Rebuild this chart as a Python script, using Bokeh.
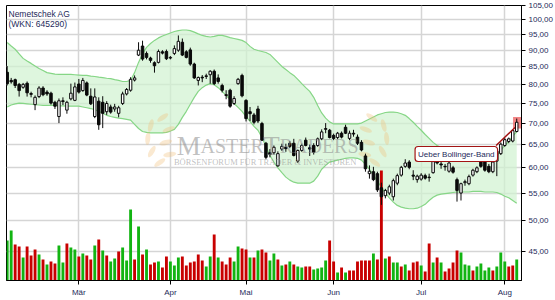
import math
from bokeh.plotting import figure
from bokeh.models import ColumnDataSource, Range1d, LinearScale, FixedTicker, Label
from bokeh.embed import file_html
from bokeh.resources import INLINE

# ---------------- data ----------------
opens = [83.4, 81.1, 81.3, 80.0, 79.2, 80.3, 77.5, 74.6, 76.7, 79.0,
         77.9, 77.6, 75.2, 71.6, 75.6, 73.2, 76.1, 75.7, 80.1, 78.3,
         80.4, 76.8, 71.6, 75.5, 75.2, 72.8, 74.0, 73.5, 72.4, 74.9,
         77.4, 78.4, 81.2, 88.5, 91.3, 89.0, 87.6, 86.2, 86.3, 89.5,
         89.6, 87.6, 89.0, 90.0, 92.5, 89.5, 90.1, 85.8, 81.1, 82.0,
         82.2, 82.7, 83.7, 81.8, 79.7, 77.2, 78.4, 74.9, 80.2, 82.5,
         75.7, 72.8, 72.0, 73.5, 69.9, 65.3, 63.2, 63.2, 60.4, 64.0,
         64.4, 65.3, 65.3, 61.4, 63.7, 66.0, 64.3, 64.8, 64.8, 66.3,
         68.5, 68.3, 67.1, 66.6, 67.6, 69.0, 66.4, 67.6, 66.7, 65.5,
         62.5, 58.8, 59.2, 58.8, 56.0, 54.5, 55.0, 54.3, 56.9, 58.5,
         60.3, 61.2, 58.5, 57.6, 57.7, 58.4, 58.1, 59.0, 61.6, 60.8,
         60.3, 59.3, 60.0, 57.6, 55.0, 57.0, 56.8, 58.5, 59.2, 61.4,
         61.2, 60.3, 59.2, 61.4, 63.0, 64.8, 65.7, 65.8, 68.0]
highs = [85.2, 81.8, 81.6, 80.4, 80.4, 80.8, 78.0, 77.0, 79.5, 79.5,
         78.4, 78.0, 75.6, 76.2, 76.5, 75.6, 80.2, 80.5, 81.5, 81.8,
         80.8, 78.9, 78.9, 76.5, 76.8, 75.5, 74.6, 74.8, 74.3, 78.0,
         79.0, 82.0, 82.5, 92.5, 93.0, 89.6, 88.0, 86.6, 90.2, 90.0,
         90.2, 88.2, 91.5, 94.7, 93.7, 90.0, 90.8, 86.2, 82.2, 82.6,
         83.0, 84.0, 84.2, 82.8, 80.2, 78.4, 78.8, 76.8, 81.8, 83.0,
         76.0, 74.0, 72.5, 74.3, 70.3, 65.6, 64.0, 64.8, 63.5, 65.2,
         65.2, 65.8, 66.3, 63.9, 65.2, 66.6, 65.0, 65.3, 66.6, 68.5,
         70.0, 68.6, 67.5, 67.9, 68.0, 69.6, 68.2, 68.4, 67.3, 66.0,
         63.0, 60.5, 60.2, 59.2, 57.0, 55.8, 56.6, 57.8, 58.8, 60.4,
         61.8, 61.6, 59.5, 58.6, 58.9, 58.8, 58.8, 61.6, 62.2, 61.8,
         60.8, 61.3, 60.4, 58.0, 57.0, 57.6, 58.6, 59.8, 60.3, 61.9,
         61.5, 60.8, 61.6, 63.9, 65.5, 66.5, 66.6, 68.4, 71.1]
lows = [79.7, 80.2, 79.0, 76.7, 78.8, 76.7, 76.5, 73.2, 76.3, 76.8,
        76.9, 74.6, 73.5, 70.0, 74.5, 72.3, 75.7, 75.5, 77.5, 78.0,
        76.8, 74.5, 71.2, 68.4, 68.8, 72.0, 72.3, 72.8, 71.4, 74.5,
        77.0, 78.0, 80.8, 88.2, 86.8, 87.2, 86.2, 83.3, 86.0, 88.7,
        87.0, 87.2, 88.5, 89.5, 88.2, 87.5, 85.3, 81.5, 79.7, 80.6,
        81.5, 80.2, 79.8, 80.2, 77.8, 76.0, 73.8, 74.5, 79.9, 76.5,
        70.4, 70.5, 69.7, 70.0, 65.8, 61.8, 62.2, 62.8, 60.2, 63.6,
        63.4, 64.2, 62.4, 61.0, 63.4, 64.6, 62.5, 62.8, 64.5, 66.0,
        67.6, 66.4, 66.0, 66.2, 66.4, 67.4, 66.0, 66.8, 64.9, 63.5,
        59.2, 57.8, 57.3, 55.2, 52.8, 54.0, 54.6, 53.6, 56.5, 58.2,
        60.0, 59.7, 57.5, 57.0, 57.4, 57.6, 57.2, 58.8, 60.7, 59.8,
        59.4, 59.0, 58.8, 53.4, 53.6, 56.4, 56.5, 58.2, 58.9, 60.0,
        59.2, 58.9, 58.9, 58.3, 62.7, 64.5, 65.3, 65.5, 67.8]
closes = [80.2, 80.7, 79.7, 78.3, 80.0, 77.7, 77.3, 76.5, 79.0, 77.2,
          77.4, 75.0, 74.2, 75.6, 75.4, 75.2, 77.6, 79.3, 77.9, 81.1,
          77.1, 74.8, 76.6, 69.6, 72.4, 74.9, 72.7, 74.0, 73.8, 77.4,
          78.6, 81.4, 81.8, 90.0, 87.3, 87.8, 86.9, 85.3, 89.6, 89.1,
          87.4, 87.8, 90.5, 92.8, 88.5, 87.8, 85.8, 81.8, 81.9, 81.8,
          82.4, 83.7, 80.2, 80.8, 78.4, 77.0, 74.2, 76.2, 81.4, 76.9,
          71.1, 72.3, 70.2, 70.5, 66.0, 62.2, 62.8, 64.4, 63.0, 64.6,
          64.1, 64.6, 62.6, 63.7, 64.8, 64.8, 64.0, 63.3, 66.3, 67.9,
          68.7, 66.6, 66.4, 67.6, 66.7, 67.6, 67.6, 67.4, 65.3, 63.8,
          59.8, 59.3, 57.6, 55.6, 54.3, 55.5, 56.2, 57.4, 58.4, 60.1,
          61.0, 60.1, 58.3, 58.3, 58.5, 57.9, 58.0, 61.3, 61.0, 60.6,
          60.2, 61.0, 59.1, 55.5, 56.8, 57.2, 58.2, 59.5, 60.0, 60.3,
          59.5, 59.2, 61.2, 63.6, 65.1, 66.1, 66.3, 68.2, 70.2]
volume = [40, 50, 36, 34, 23, 34, 25, 31, 26, 21,
          16, 19, 17, 35, 18, 37, 33, 31, 24, 27,
          25, 21, 35, 41, 30, 25, 19, 22, 29, 33,
          20, 71, 21, 54, 26, 31, 16, 18, 19, 13,
          24, 19, 15, 23, 24, 15, 18, 19, 26, 20,
          14, 24, 46, 23, 19, 16, 23, 19, 34, 32,
          31, 23, 23, 30, 31, 28, 20, 27, 21, 15,
          16, 19, 16, 14, 13, 14, 14, 11, 12, 13,
          20, 40, 19, 8, 13, 8, 10, 10, 19, 20,
          20, 20, 27, 21, 110, 22, 24, 18, 18, 14,
          16, 10, 18, 19, 15, 9, 37, 18, 23, 18,
          9, 12, 18, 30, 28, 16, 15, 10, 14, 17,
          10, 13, 10, 14, 28, 19, 14, 15, 21]
vol_dir = list("ggrrgrrrgr" "grrggrggrg" "rrgrgrggrg" "ggrgrgrrgr"
               "rgggrrrrrr" "ggrgrrrggr" "rgrgrrggrg" "rgrggrrggg"
               "grrgrgrrrr" "rrgrrgrggr" "grrrgrrgrg" "rrrrgggrgg"
               "ggrgggrrg")
bb_upper = [92.4, 91.3, 90.3, 88.9, 87.5, 86.7, 86.0, 85.2, 84.5, 83.9,
            83.3, 83.1, 82.9, 82.8, 82.8, 82.8, 82.8, 82.7, 82.6, 82.5,
            82.5, 82.3, 82.2, 82.0, 81.9, 81.7, 81.6, 81.3, 81.1, 80.8,
            80.8, 81.1, 83.3, 86.3, 88.9, 90.9, 92.1, 93.1, 93.9, 94.5,
            95.0, 95.5, 96.0, 96.3, 96.5, 96.5, 96.3, 95.8, 95.2, 94.7,
            94.4, 94.2, 94.4, 94.7, 94.7, 94.4, 94.0, 93.7, 93.4, 93.1,
            92.4, 91.2, 90.3, 89.9, 89.6, 89.3, 88.7, 87.5, 86.3, 85.1,
            84.2, 83.3, 82.5, 81.4, 80.2, 79.1, 78.1, 76.5, 74.4, 72.5,
            71.2, 70.3, 69.8, 69.8, 69.8, 69.8, 69.8, 69.8, 69.8, 70.0,
            70.5, 71.0, 71.5, 72.0, 72.3, 72.6, 72.7, 72.7, 72.6, 72.3,
            71.9, 71.1, 70.2, 69.2, 68.3, 67.3, 66.4, 65.5, 64.8, 64.4,
            64.0, 63.7, 63.5, 63.3, 63.0, 62.8, 62.6, 62.4, 62.2, 62.0,
            61.9, 61.8, 62.0, 62.6, 63.7, 64.8, 65.7, 66.9, 68.0]
bb_lower = [74.0, 74.5, 74.8, 75.0, 74.9, 74.8, 74.7, 74.6, 74.5, 74.4,
            74.4, 74.4, 74.4, 74.3, 74.3, 74.2, 74.2, 74.2, 74.2, 74.0,
            73.8, 73.6, 73.3, 72.9, 72.4, 71.9, 71.6, 71.4, 71.2, 71.1,
            70.9, 70.7, 69.7, 68.7, 68.0, 67.8, 67.7, 67.7, 67.7, 67.7,
            67.8, 68.1, 68.5, 69.7, 71.4, 72.9, 74.7, 76.5, 78.1, 79.1,
            79.8, 80.2, 79.9, 79.1, 78.1, 77.0, 76.0, 74.9, 73.9, 72.9,
            71.6, 70.4, 69.2, 68.3, 66.6, 64.6, 62.6, 61.2, 60.0, 59.0,
            58.1, 57.5, 57.1, 56.9, 56.9, 56.9, 56.9, 57.3, 58.3, 59.7,
            60.5, 61.2, 61.4, 61.6, 61.8, 62.0, 62.1, 62.1, 62.0, 61.6,
            60.7, 59.7, 58.5, 57.3, 56.1, 55.0, 54.1, 53.3, 52.7, 52.4,
            52.2, 52.1, 52.1, 52.2, 52.5, 52.9, 53.6, 54.2, 54.6, 54.8,
            54.9, 55.0, 55.1, 55.2, 55.2, 55.2, 55.2, 55.3, 55.3, 55.3,
            55.2, 55.2, 55.2, 55.1, 54.8, 54.4, 54.1, 53.6, 53.1]
month_pos = [18, 41, 60, 82, 104, 125]
month_labels = ["Mär", "Apr", "Mai", "Jun", "Jul", "Aug"]
price_ticks = [45, 50, 55, 60, 65, 70, 75, 80, 85, 90, 95, 100, 105]
price_labels = ["45,00", "50,00", "55,00", "60,00", "65,00", "70,00", "75,00",
                "80,00", "85,00", "90,00", "95,00", "100,00", "105,00"]
title_lines = ["Nemetschek AG", "(WKN: 645290)"]
signal_text = "Ueber Bollinger-Band"

# ---------------- helpers for placing decorations ----------------
def px_x(px):
    return (px - 6.7) / 4.0

def px_y(py):
    return 105.0 * math.exp(-(py - 5.0) / 290.0)

NAVY = "#1e2a5a"
N = len(closes)
xs = list(range(N))
up = [c >= o for o, c in zip(opens, closes)]
src = ColumnDataSource(dict(
    x=xs, o=opens, h=highs, l=lows, c=closes,
    top=[max(o, c) for o, c in zip(opens, closes)],
    bot=[min(o, c) for o, c in zip(opens, closes)],
    body=["white" if u else "#0a0a0a" for u in up],
    vol=volume,
    vcol=["#12b412" if d == "g" else "#c80000" for d in vol_dir],
    ub=bb_upper, lb=bb_lower,
))

p = figure(width=555, height=300, output_backend="svg", toolbar_location=None,
           y_axis_type="log", y_axis_location="right",
           x_range=Range1d(-0.175, 129.2), y_range=Range1d(40.68, 105.0),
           min_border_left=6, min_border_top=5, min_border_bottom=20,
           min_border_right=10, background_fill_color="white",
           border_fill_color="white")
p.outline_line_color = "black"
p.outline_line_width = 1
p.extra_y_ranges = {"vol": Range1d(0, 275)}
p.extra_y_scales = {"vol": LinearScale()}

# axes
p.xaxis.ticker = FixedTicker(ticks=month_pos, minor_ticks=[])
p.xaxis.major_label_overrides = {k: v for k, v in zip(month_pos, month_labels)}
p.yaxis.ticker = FixedTicker(ticks=price_ticks, minor_ticks=[])
p.yaxis.major_label_overrides = {k: v for k, v in zip(price_ticks, price_labels)}
for ax in (p.xaxis, p.yaxis):
    ax.axis_line_color = "black"
    ax.axis_line_width = 1
    ax.major_tick_line_color = "black"
    ax.major_tick_out = 4
    ax.major_tick_in = 0
    ax.minor_tick_line_color = None
    ax.major_label_text_font = "Liberation Sans"
    ax.major_label_text_font_size = "8px"
    ax.major_label_text_color = NAVY
    ax.major_label_standoff = 3
p.xgrid.grid_line_color = "#d5d5d5"
p.xgrid.grid_line_width = 1.5
p.ygrid.grid_line_color = "#d5d5d5"
p.ygrid.grid_line_width = 1.5

# Bollinger band
p.varea(x="x", y1="lb", y2="ub", source=src, fill_color="#d0f2d0", fill_alpha=0.7)
p.line(x="x", y="ub", source=src, line_color="#86d686", line_width=1.2)
p.line(x="x", y="lb", source=src, line_color="#86d686", line_width=1.2)

# watermark (logo)
left_leaves = [(163, 117, 35), (151, 125, 75), (169, 129, 20), (148, 138, 85),
               (166, 142, 15), (152, 151, 60), (170, 154, 10), (160, 162, 35)]
lx = [px_x(a) for a, b, c in left_leaves] + [px_x(536 - a) for a, b, c in left_leaves]
ly = [px_y(b) for a, b, c in left_leaves] * 2
la = [c for a, b, c in left_leaves] + [180 - c for a, b, c in left_leaves]
p.ellipse(x=lx, y=ly, width=13, height=5, angle=la, angle_units="deg",
          width_units="screen", height_units="screen",
          fill_color="#f2bf7a", fill_alpha=0.35, line_color=None)
wm_parts = [("M", 177, "27px"), ("ASTER", 201, "20px"), ("T", 264, "27px"), ("RADERS", 280.5, "20px")]
for txt, xp, fs in wm_parts:
    p.add_layout(Label(x=px_x(xp), y=px_y(145), text=txt, text_font="Liberation Serif",
                       text_font_size=fs, text_color="#8c8c8c", text_alpha=0.55,
                       text_baseline="alphabetic", text_align="left"))
p.add_layout(Label(x=px_x(266), y=px_y(161), text="BÖRSENFORUM FÜR TRADER & INVESTOREN",
                   text_font="Liberation Serif", text_font_size="8.5px",
                   text_color="#8c8c8c", text_alpha=0.55,
                   text_baseline="alphabetic", text_align="center"))

# volume
p.vbar(x="x", top="vol", bottom=0, width=0.72, source=src, y_range_name="vol",
       fill_color="vcol", line_color=None)

# signal highlight behind the last candle
p.quad(left=[px_x(515)], right=[px_x(526)], bottom=[px_y(128)], top=[px_y(116.5)],
       fill_color="#f07070", fill_alpha=0.85, line_color=None)

# candles
p.segment(x0="x", y0="l", x1="x", y1="h", source=src, line_color="#0a0a0a", line_width=1)
p.vbar(x="x", top="top", bottom="bot", width=0.62, source=src,
       fill_color="body", line_color="#0a0a0a", line_width=1)

# signal annotation
p.segment(x0=[px_x(498)], y0=[px_y(145)], x1=[px_x(517)], y1=[px_y(127)],
          line_color="#a01010", line_width=1.5)
p.add_layout(Label(x=px_x(458), y=px_y(153.5), text=signal_text,
                   text_font="Liberation Sans", text_font_size="8px", text_color=NAVY,
                   text_align="center", text_baseline="middle",
                   background_fill_color="white", border_line_color="#a31515",
                   border_line_width=1.2, padding=3, border_radius=3))

# title
for i, t in enumerate(title_lines):
    p.add_layout(Label(x=px_x(8), y=px_y(8 + 10 * i), text=t,
                       text_font="Liberation Sans", text_font_size="8.5px",
                       text_color=NAVY, text_baseline="top", text_align="left"))

open("out.html", "w", encoding="utf-8").write(file_html(p, INLINE))
